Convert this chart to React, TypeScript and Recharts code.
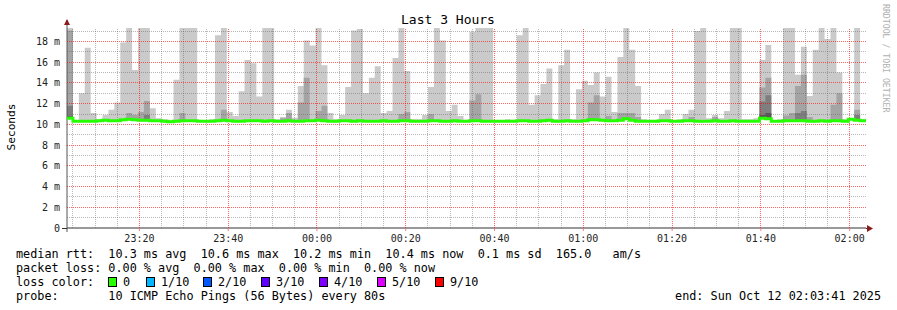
import {
  ComposedChart,
  Area,
  Line,
  XAxis,
  YAxis,
  ReferenceLine,
} from "recharts";

// one smokeping sample every 80 s, 3 hours shown
const STEP_MIN = 80 / 60;
const SPAN_MIN = 180;
// 23:03:41 -> 23:05 / 23:20
const FIRST_MINOR = 1 + 19 / 60;
const FIRST_MAJOR = 16 + 19 / 60;

const timeLabels = ["23:20", "23:40", "00:00", "00:20", "00:40", "01:00", "01:20", "01:40", "02:00"];
const yTicks = [0, 2, 4, 6, 8, 10, 12, 14, 16, 18];

// outer smoke (min..max ping), ms
const smokeMax = [
  19.3, 10.35, 13.0, 17.4, 11.1, 10.5, 10.9, 11.4, 12.1, 17.9,
  19.3, 15.25, 19.3, 19.3, 11.55, 10.6, 10.5, 10.4, 14.3, 19.3,
  19.3, 19.3, 10.4, 10.4, 10.5, 18.6, 19.3, 11.2, 10.8, 13.2,
  16.2, 15.9, 12.7, 19.3, 19.3, 10.5, 10.7, 11.4, 10.65, 13.7,
  18.1, 17.6, 19.3, 15.7, 11.1, 10.5, 10.9, 13.6, 19.05, 19.2,
  13.0, 14.5, 15.6, 11.1, 11.3, 16.4, 19.3, 15.15, 10.5, 10.5,
  10.9, 13.6, 19.3, 18.1, 11.3, 11.9, 10.8, 10.4, 18.95, 19.3,
  19.3, 19.3, 10.4, 10.4, 10.5, 10.4, 18.6, 19.3, 11.9, 12.8,
  13.9, 15.4, 10.5, 15.7, 17.2, 10.5, 13.4, 14.2, 13.8, 15.0,
  12.7, 14.6, 11.2, 16.5, 19.3, 17.2, 13.7, 10.5, 10.4, 10.4,
  11.0, 11.4, 10.4, 10.5, 11.0, 11.4, 19.0, 19.3, 10.6, 10.9,
  10.6, 11.3, 19.3, 19.3, 10.5, 10.5, 10.6, 16.2, 17.65, 10.4,
  10.5, 19.3, 19.3, 14.8, 17.5, 12.75, 17.2, 19.3, 18.25, 19.3,
  15.0, 10.5, 10.4, 19.3, 10.5,
];

// median rtt, ms
const median = [
  10.6, 10.3, 10.3, 10.3, 10.3, 10.35, 10.4, 10.35, 10.35, 10.45,
  10.5, 10.45, 10.4, 10.4, 10.35, 10.35, 10.3, 10.25, 10.3, 10.35,
  10.35, 10.35, 10.3, 10.3, 10.3, 10.35, 10.4, 10.35, 10.3, 10.3,
  10.35, 10.35, 10.35, 10.3, 10.35, 10.3, 10.3, 10.35, 10.3, 10.3,
  10.35, 10.35, 10.4, 10.35, 10.3, 10.3, 10.35, 10.35, 10.3, 10.35,
  10.3, 10.3, 10.3, 10.35, 10.3, 10.3, 10.35, 10.35, 10.3, 10.3,
  10.3, 10.35, 10.35, 10.3, 10.3, 10.35, 10.3, 10.3, 10.35, 10.35,
  10.3, 10.3, 10.3, 10.3, 10.3, 10.3, 10.35, 10.35, 10.3, 10.3,
  10.35, 10.4, 10.3, 10.3, 10.35, 10.3, 10.3, 10.35, 10.45, 10.45,
  10.4, 10.35, 10.35, 10.4, 10.55, 10.4, 10.3, 10.3, 10.3, 10.3,
  10.35, 10.35, 10.3, 10.3, 10.35, 10.35, 10.3, 10.3, 10.3, 10.35,
  10.3, 10.3, 10.35, 10.3, 10.3, 10.3, 10.3, 10.6, 10.55, 10.3,
  10.3, 10.35, 10.35, 10.35, 10.35, 10.3, 10.3, 10.35, 10.3, 10.35,
  10.35, 10.3, 10.5, 10.4, 10.35,
];

// inner smoke bands where they rise above the median line: [sample, top]
const band2Tops: [number, number][] = [
  [0, 19.05], [10, 11.1], [11, 10.9], [12, 11.2], [13, 12.25], [19, 11.1], [26, 11.4],
  [36, 10.6], [37, 11.1], [39, 12.1], [40, 14.5], [42, 11.3], [43, 11.8], [56, 11.0],
  [57, 11.2], [61, 11.0], [68, 12.3], [69, 12.9], [88, 12.1], [89, 12.8], [91, 10.8],
  [93, 11.1], [94, 11.1], [95, 11.1], [96, 10.7], [105, 10.7], [109, 10.7], [117, 13.55],
  [118, 14.5], [121, 10.85], [122, 11.1], [123, 13.7], [124, 14.8], [125, 10.7],
  [129, 11.9], [130, 13.0], [133, 11.4],
];
const band3Tops: [number, number][] = [
  [0, 11.8], [13, 10.9], [117, 12.2], [118, 12.8], [123, 11.1], [124, 11.3], [133, 10.9],
];
const band4Tops: [number, number][] = [
  [0, 10.75], [117, 10.9], [118, 11.1],
];

const lossLegend = [
  { label: "0", color: "#26ff00" },
  { label: "1/10", color: "#00b8ff" },
  { label: "2/10", color: "#0059ff" },
  { label: "3/10", color: "#5e00ff" },
  { label: "4/10", color: "#7e00ff" },
  { label: "5/10", color: "#dd00ff" },
  { label: "9/10", color: "#ff0000" },
];

const statLines = [
  "median rtt:  10.3 ms avg  10.6 ms max  10.2 ms min  10.4 ms now  0.1 ms sd  165.0   am/s",
  "packet loss: 0.00 % avg  0.00 % max  0.00 % min  0.00 % now",
];
const probeLine = "probe:       10 ICMP Echo Pings (56 Bytes) every 80s";
const endLine = "end: Sun Oct 12 02:03:41 2025";

const toMap = (list: [number, number][]) => new Map(list);
const b2 = toMap(band2Tops);
const b3 = toMap(band3Tops);
const b4 = toMap(band4Tops);

const rows = smokeMax.map((max, i) => ({
  t: i * STEP_MIN,
  median: median[i],
  b1: max,
  b2: b2.get(i) ?? median[i],
  b3: b3.get(i) ?? median[i],
  b4: b4.get(i) ?? median[i],
}));
// closing point so the last step is drawn to the end of the graph
const data = [...rows, { ...rows[rows.length - 1], t: SPAN_MIN }];

const majorX = timeLabels.map((_, k) => FIRST_MAJOR + 20 * k);
const minorX: number[] = [];
for (let m = FIRST_MINOR; m < SPAN_MIN; m += 5) {
  if (!majorX.some((x) => Math.abs(x - m) < 0.01)) minorX.push(m);
}
const minorY = [1, 3, 5, 7, 9, 11, 13, 15, 17, 19];
const majorY = [2, 4, 6, 8, 10, 12, 14, 16, 18];

const MONO = "'DejaVu Sans Mono', monospace";

const bands = [
  { key: "b1", color: "#cacaca" },
  { key: "b2", color: "#a4a4a4" },
  { key: "b3", color: "#7e7e7e" },
  { key: "b4", color: "#585858" },
];

const lossX = [108, 146, 203, 261, 319, 377, 435];

const chartMargin = { top: 28, right: 31, bottom: 52, left: 7 };
const tickFont = { fontSize: 10, fill: "#222", fontFamily: MONO };

const minorLine = {
  stroke: "#606060",
  strokeOpacity: 0.45,
  strokeDasharray: "1 1",
  shapeRendering: "crispEdges",
};
const majorLine = {
  stroke: "#ff0000",
  strokeOpacity: 0.6,
  strokeDasharray: "1 1",
  shapeRendering: "crispEdges",
};

export default function App() {
  const xTick = (v: number) =>
    timeLabels[majorX.findIndex((x) => Math.abs(x - v) < 0.01)] ?? "";
  const yTick = (v: number) => (v === 0 ? "0" : `${v} m`);

  return (
    <div style={{ position: "absolute", left: 0, top: 0, width: 897, height: 310, background: "#fff" }}>
      <ComposedChart width={897} height={310} data={data} margin={chartMargin}>
        <XAxis
          type="number"
          dataKey="t"
          domain={[0, SPAN_MIN]}
          ticks={majorX}
          interval={0}
          allowDataOverflow
          tickFormatter={xTick}
          tick={tickFont}
          tickSize={3}
          tickMargin={4}
          tickLine={{ stroke: "#f08080" }}
          axisLine={{ stroke: "#333" }}
          height={30}
        />
        <YAxis
          type="number"
          domain={[0, 19.3]}
          ticks={yTicks}
          interval={0}
          allowDataOverflow
          tickFormatter={yTick}
          tick={tickFont}
          tickSize={0}
          tickMargin={7}
          tickLine={false}
          axisLine={{ stroke: "#555" }}
          width={60}
        />

        {bands.map((b) => (
          <Area
            key={b.key}
            type="stepAfter"
            dataKey={(d: any) => [d.median, d[b.key]]}
            stroke="none"
            fill={b.color}
            fillOpacity={1}
            dot={false}
            activeDot={false}
            isAnimationActive={false}
          />
        ))}
      </ComposedChart>

      {/* grid drawn over the smoke, like rrdtool does, then the median line */}
      <div style={{ position: "absolute", left: 0, top: 0 }}>
        <ComposedChart width={897} height={310} data={data} margin={chartMargin}>
          <XAxis
            type="number"
            dataKey="t"
            domain={[0, SPAN_MIN]}
            ticks={majorX}
            allowDataOverflow
            tick={false}
            tickLine={false}
            axisLine={false}
            height={30}
          />
          <YAxis
            type="number"
            domain={[0, 19.3]}
            ticks={yTicks}
            allowDataOverflow
            tick={false}
            tickLine={false}
            axisLine={false}
            width={60}
          />
          {minorY.map((y) => (
            <ReferenceLine key={`hy${y}`} y={y} {...minorLine} />
          ))}
          {minorX.map((x) => (
            <ReferenceLine key={`hx${x}`} x={x} {...minorLine} />
          ))}
          {majorY.map((y) => (
            <ReferenceLine key={`my${y}`} y={y} {...majorLine} />
          ))}
          {majorX.map((x) => (
            <ReferenceLine key={`mx${x}`} x={x} {...majorLine} />
          ))}
          <Line
            type="stepAfter"
            dataKey="median"
            stroke="#26ff00"
            strokeWidth={3}
            dot={false}
            activeDot={false}
            isAnimationActive={false}
          />
        </ComposedChart>
      </div>

      <svg
        width={897}
        height={310}
        style={{ position: "absolute", left: 0, top: 0, pointerEvents: "none" }}
      >
        {/* axis extensions and arrows */}
        <line x1={67} y1={20} x2={67} y2={28} stroke="#555" />
        <line x1={67} y1={228} x2={67} y2={232} stroke="#555" />
        <line x1={62} y1={228.5} x2={67} y2={228.5} stroke="#333" />
        <line x1={866} y1={228.5} x2={870} y2={228.5} stroke="#333" />
        <polygon points="64,25 70,25 67,19" fill="#8b1a1a" />
        <polygon points="867,225 867,232 873,228.5" fill="#8b1a1a" />

        <text x={448} y={24} textAnchor="middle" fontFamily={MONO} fontSize={13} fill="#000">
          Last 3 Hours
        </text>
        <text
          x={15}
          y={127}
          textAnchor="middle"
          fontFamily={MONO}
          fontSize={11.2}
          fill="#000"
          transform="rotate(-90 15 127)"
        >
          Seconds
        </text>
        <text
          x={882.5}
          y={4}
          fontFamily={MONO}
          fontSize={8.2}
          fill="#b0b0b0"
          transform="rotate(90 882.5 4)"
        >
          RRDTOOL / TOBI OETIKER
        </text>

        {statLines.map((s, k) => (
          <text
            key={k}
            x={16}
            y={258 + 14 * k}
            fontFamily={MONO}
            fontSize={11.8}
            fill="#000"
            xmlSpace="preserve"
            style={{ whiteSpace: "pre" }}
          >
            {s}
          </text>
        ))}
        <text x={16} y={286} fontFamily={MONO} fontSize={11.8} fill="#000">
          loss color:
        </text>
        {lossLegend.map((e, k) => (
          <g key={e.label}>
            <rect x={lossX[k] + 0.5} y={277.5} width={8} height={9} fill={e.color} stroke="#000" />
            <text x={lossX[k] + 15} y={286} fontFamily={MONO} fontSize={11.8} fill="#000">
              {e.label}
            </text>
          </g>
        ))}
        <text
          x={16}
          y={300}
          fontFamily={MONO}
          fontSize={11.8}
          fill="#000"
          xmlSpace="preserve"
          style={{ whiteSpace: "pre" }}
        >
          {probeLine}
        </text>
        <text x={881} y={300} textAnchor="end" fontFamily={MONO} fontSize={11.8} fill="#000">
          {endLine}
        </text>
      </svg>
    </div>
  );
}
